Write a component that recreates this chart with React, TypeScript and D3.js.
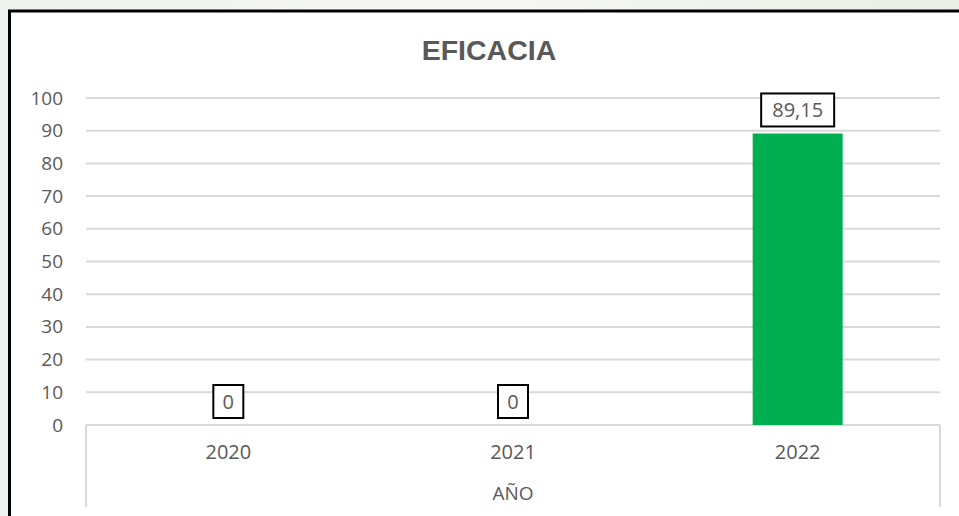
import React from "react";
import * as d3 from "d3";

const categories = ["2020", "2021", "2022"];
const values = [0, 0, 89.15];
const valueLabels = ["0", "0", "89,15"];
const yTicks = [0, 10, 20, 30, 40, 50, 60, 70, 80, 90, 100];
const title = "EFICACIA";
const axisTitle = "AÑO";

export default function App() {
  const W = 959, H = 516;
  const left = 86, right = 940, top = 98, bottom = 425;
  const x = d3.scaleBand<string>().domain(categories).range([left, right]).paddingInner(0).paddingOuter(0);
  const y = d3.scaleLinear().domain([0, 100]).range([bottom, top]);
  const barW = 90;
  const font = "'Open Sans', sans-serif";
  const grey = "#595959";
  return (
    <svg width={W} height={H} style={{ position: "fixed", left: 0, top: 0, display: "block" }}>
      <defs>
        <linearGradient id="bg" x1="0" x2="1" y1="0" y2="0">
          <stop offset="0" stopColor="#eef2ee" />
          <stop offset="0.5" stopColor="#f7f7f5" />
          <stop offset="1" stopColor="#e9efe4" />
        </linearGradient>
      </defs>
      <rect x={0} y={0} width={W} height={H} fill="url(#bg)" />
      <rect x={9.5} y={11} width={W + 10} height={H + 10} fill="#ffffff" stroke="#000" strokeWidth={3} />
      <text x={(left + right) / 2 - 24} y={60} textAnchor="middle" fontFamily="'Liberation Sans', Arial, sans-serif" fontWeight="bold" fontSize={28.5} fill={grey}>{title}</text>
      {yTicks.map((t) => (
        <g key={t}>
          {t > 0 && <line x1={left} x2={right} y1={y(t)} y2={y(t)} stroke="#d9d9d9" strokeWidth={2} />}
          <text x={63} y={y(t) + 6.5} textAnchor="end" fontFamily={font} fontSize={19} fill={grey}>{t}</text>
        </g>
      ))}
      <line x1={left} x2={right} y1={bottom} y2={bottom} stroke="#d9d9d9" strokeWidth={2} />
      <line x1={left} x2={left} y1={bottom} y2={507} stroke="#d9d9d9" strokeWidth={2} />
      <line x1={right} x2={right} y1={bottom} y2={507} stroke="#d9d9d9" strokeWidth={2} />
      {categories.map((c, i) => {
        const cx = (x(c) as number) + x.bandwidth() / 2;
        const by = y(values[i]);
        const lbl = valueLabels[i];
        const bw = lbl.length > 1 ? 73 : 30;
        const bh = 33;
        const boxBottom = by - 7;
        return (
          <g key={c}>
            {values[i] > 0 && (
              <rect x={cx - barW / 2} y={by} width={barW} height={bottom - by} fill="#00b050" />
            )}
            <rect x={cx - bw / 2} y={boxBottom - bh} width={bw} height={bh} fill="#fff" stroke="#000" strokeWidth={2} />
            <text x={cx} y={boxBottom - bh / 2 + 7} textAnchor="middle" fontFamily={font} fontSize={20} fill={grey}>{lbl}</text>
            <text x={cx} y={459} textAnchor="middle" fontFamily={font} fontSize={20} fill={grey}>{c}</text>
          </g>
        );
      })}
      <text x={(left + right) / 2} y={500} textAnchor="middle" fontFamily={font} fontSize={19} fill={grey}>{axisTitle}</text>
    </svg>
  );
}
